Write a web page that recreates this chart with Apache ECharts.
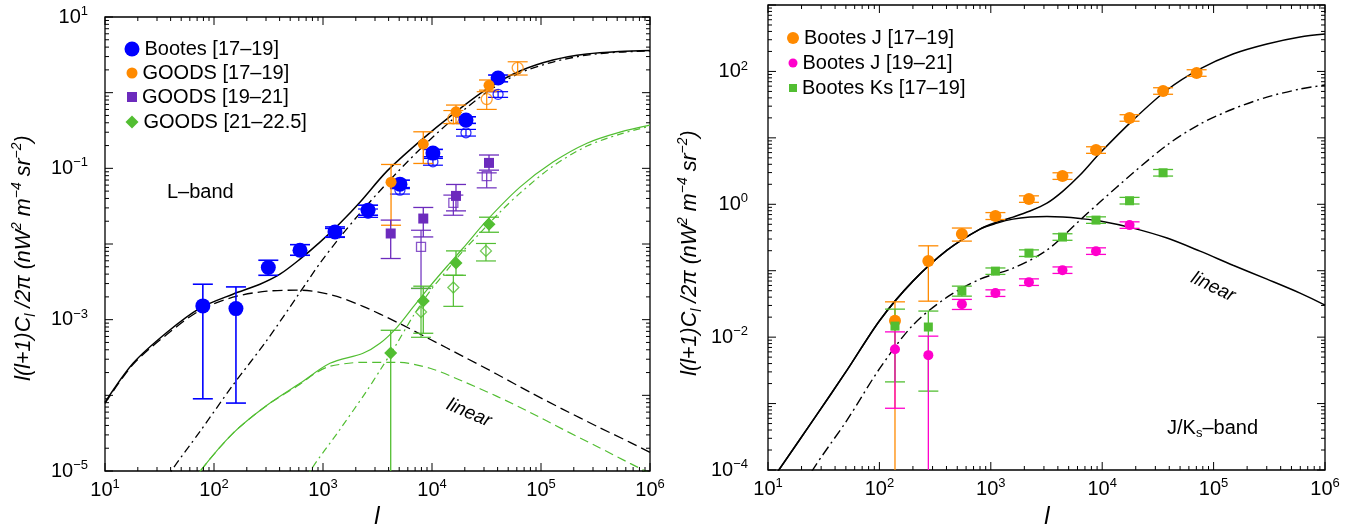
<!DOCTYPE html>
<html><head><meta charset="utf-8">
<script src="https://cdn.jsdelivr.net/npm/echarts@6/dist/echarts.min.js"></script>
<style>html,body{margin:0;padding:0;background:#fff}#c{width:1354px;height:529px}</style>
</head><body><div id="c"></div>
<script>
const FONT = 'Liberation Sans, Arial, sans-serif';

// ---------- axis ranges ----------
const xRange = [10, 1e6];
const yRangeL = [1e-5, 10];
const yRangeR = [1e-4, 1e3];

// ---------- LEFT PANEL (L-band) data: [l, value, lower, upper] ----------
const bootesL = [
  [79, 1.52e-3, 9.0e-5, 2.94e-3],
  [159, 1.40e-3, 7.9e-5, 2.71e-3],
  [315, 4.89e-3, 3.86e-3, 6.1e-3],
  [615, 8.28e-3, 7.1e-3, 9.8e-3],
  [1288, 0.01445, 0.0124, 0.0168],
  [2590, 0.028, 0.024, 0.0326],
  [5080, 0.0618, 0.0542, 0.0698],
  [10200, 0.159, 0.142, 0.178],
  [20500, 0.434, 0.393, 0.48],
  [40400, 1.56, 1.39, 1.71]
];
const bootesLOpen = [
  [1288, 0.0139, 0.0122, 0.016],
  [2590, 0.0254, 0.0225, 0.029],
  [5080, 0.0515, 0.0457, 0.0559],
  [10200, 0.122, 0.110, 0.135],
  [20500, 0.295, 0.267, 0.327],
  [40400, 0.950, 0.867, 1.03]
];
const goods1719 = [
  [4210, 0.0656, 0.0177, 0.1125],
  [8318, 0.209, 0.116, 0.304],
  [16600, 0.558, 0.392, 0.686],
  [33340, 1.25, 1.08, 1.47]
];
const goods1719Open = [
  [15700, 0.457, 0.39, 0.58],
  [31770, 0.822, 0.601, 1.03],
  [61100, 2.13, 1.71, 2.56]
];
const goods1921 = [
  [4180, 0.01377, 6.43e-3, 0.0207],
  [8318, 0.0217, 0.0124, 0.0304],
  [16600, 0.0432, 0.0274, 0.0612],
  [33340, 0.118, 0.0946, 0.150]
];
const goods1921Open = [
  [7930, 9.16e-3, 2.58e-3, 0.0152],
  [15700, 0.035, 0.024, 0.0443],
  [31770, 0.0789, 0.0552, 0.0871]
];
const goods21225 = [
  [4180, 3.63e-4, 1e-6, 7.24e-4],
  [8318, 1.77e-3, 6.61e-4, 2.77e-3],
  [16600, 5.62e-3, 3.86e-3, 8.11e-3],
  [33340, 0.0183, 0.0143, 0.0226]
];
const goods21225Open = [
  [7930, 1.26e-3, 5.85e-4, 2.6e-3],
  [15700, 2.66e-3, 1.50e-3, 3.86e-3],
  [31260, 8.11e-3, 5.97e-3, 0.01016]
];

// model curves, left panel: [l, value]
const lTotal = [[10,8.07e-5],[18.1,2.65e-4],[37.1,6.81e-4],[74.5,1.42e-3],[149,2.17e-3],[264,2.94e-3],[403,3.99e-3],[615,6.3e-3],[938,0.01057],[1432,0.01884],[2183,0.0357],[3864,0.0918],[7762,0.229],[15600,0.521],[32000,1.12],[64120,1.93],[128800,2.70],[264200,3.24],[530900,3.50],[1e6,3.61]];
const lLinear = [[10,7.83e-5],[18.1,2.57e-4],[37.1,6.41e-4],[74.5,1.33e-3],[149,1.98e-3],[306,2.38e-3],[615,2.45e-3],[1236,2.10e-3],[2328,1.50e-3],[4775,9.25e-4],[9594,5.51e-4],[19230,3.28e-4],[39450,1.90e-4],[79250,1.10e-4],[159200,6.53e-5],[326600,3.89e-5],[656000,2.39e-5],[1e6,1.76e-5]];
const lNonlin = [[36,7e-6],[40.4,9.9e-6],[74.5,3.34e-5],[149,1.36e-4],[306,5.35e-4],[615,2.30e-3],[938,5.57e-3],[1432,0.0123],[2183,0.0255],[3864,0.0637],[7762,0.179],[15600,0.448],[32000,1.02],[64120,1.82],[128800,2.54],[264200,3.14],[530900,3.44],[1e6,3.55]];
const gTotal = [[66,7e-6],[74.5,9.9e-6],[149,3.14e-5],[306,7.38e-5],[615,1.44e-4],[1159,2.65e-4],[2328,3.60e-4],[3334,4.88e-4],[4775,7.93e-4],[6699,1.46e-3],[9594,2.77e-3],[13740,5.08e-3],[19230,8.79e-3],[32000,0.0207],[64120,0.0564],[128800,0.121],[264200,0.215],[530900,0.301],[1e6,0.372]];
const gLinear = [[66,7e-6],[74.5,9.9e-6],[149,3.14e-5],[306,7.38e-5],[615,1.40e-4],[845,1.95e-4],[1159,2.42e-4],[2328,2.73e-4],[4775,2.73e-4],[9594,2.28e-4],[19230,1.53e-4],[39450,9.7e-5],[79250,5.96e-5],[159200,3.55e-5],[326600,2.11e-5],[656000,1.26e-5],[1e6,9.3e-6]];
const gNonlin = [[700,7e-6],[760,9.9e-6],[1432,3.55e-5],[2535,1.16e-4],[3334,2.14e-4],[4775,4.88e-4],[6699,1.11e-3],[9594,2.38e-3],[13740,4.5e-3],[19230,8.04e-3],[27540,0.0139],[42070,0.0264],[64120,0.047],[128800,0.107],[264200,0.197],[530900,0.283],[1e6,0.361]];

// ---------- RIGHT PANEL (J/Ks-band) data ----------
const bootesJ1719 = [
  [138, 0.0176, 1e-5, 0.034],
  [275, 0.140, 0.0348, 0.237],
  [550, 0.356, 0.279, 0.439],
  [1100, 0.664, 0.59, 0.75],
  [2200, 1.20, 1.07, 1.34],
  [4400, 2.66, 2.37, 2.98],
  [8800, 6.55, 5.85, 7.34],
  [17600, 19.9, 17.8, 22.3],
  [35200, 50.7, 45.3, 56.8],
  [70400, 94.6, 84.5, 106]
];
const bootesJ1921 = [
  [138, 6.59e-3, 8.5e-4, 0.0120],
  [275, 5.36e-3, 1e-5, 0.01035],
  [550, 0.0314, 0.0261, 0.037],
  [1100, 0.046, 0.041, 0.0515],
  [2200, 0.0673, 0.060, 0.0754],
  [4400, 0.102, 0.091, 0.114],
  [8800, 0.197, 0.176, 0.221],
  [17600, 0.486, 0.434, 0.544]
];
const bootesKs1719 = [
  [138, 0.01466, 2.12e-3, 0.0264],
  [275, 0.0142, 1.54e-3, 0.0247],
  [550, 0.0493, 0.0414, 0.0586],
  [1100, 0.0986, 0.088, 0.110],
  [2200, 0.184, 0.164, 0.206],
  [4400, 0.321, 0.287, 0.36],
  [8800, 0.578, 0.516, 0.647],
  [17600, 1.13, 1.01, 1.27],
  [35200, 2.98, 2.66, 3.34]
];
const rTotal = [[12.3,9.6e-5],[25.4,5.62e-4],[51.2,3.18e-3],[101,0.018],[200,0.0697],[405,0.204],[800,0.424],[1138,0.54],[1581,0.641],[2249,0.791],[3192,1.04],[4446,1.58],[6324,2.75],[9550,5.9],[18880,18.5],[38190,52.5],[75510,109],[149300,183],[301300,259],[597000,330],[1e6,366]];
const rLinear = [[12.3,9.6e-5],[25.4,5.62e-4],[51.2,3.18e-3],[101,0.018],[200,0.0697],[405,0.204],[800,0.424],[1138,0.521],[1581,0.598],[2249,0.641],[3192,0.653],[4446,0.641],[6324,0.609],[9550,0.559],[18880,0.438],[38190,0.310],[75510,0.197],[149300,0.121],[301300,0.0746],[597000,0.046],[1e6,0.0303]];
const rNonlin = [[21,5e-5],[24.8,9.6e-5],[51.2,5.62e-4],[101,3.41e-3],[200,0.0152],[405,0.040],[800,0.0746],[1581,0.109],[3192,0.204],[6324,0.578],[9550,1.08],[18880,2.95],[38190,7.8],[75510,16.1],[149300,27.2],[301300,41.1],[597000,54.3],[1e6,62.4]];

// ---------- colours ----------
const C = {blue:'#0000ff', orange:'#ff8a00', purple:'#6c2bbd', green:'#52be32', magenta:'#ff00cc', black:'#000'};

function expText(v) {
  const e = Math.round(Math.log10(v));
  return '{b|10}{s|' + (e < 0 ? '\u2212' + (-e) : e) + '}';
}
const labelRich = {
  b: {fontSize: 20, fontFamily: FONT, color: '#000', lineHeight: 24},
  s: {fontSize: 13, fontFamily: FONT, color: '#000', lineHeight: 12, verticalAlign: 'top'}
};

function tickSeries(gi, xr, yr) {
  return {
    type: 'custom', xAxisIndex: gi, yAxisIndex: gi, silent: true, clip: false, z: 10,
    data: [[xr[0], yr[0]]],
    renderItem: function (params, api) {
      const ch = [];
      const bl = api.coord([xr[0], yr[0]]), tr = api.coord([xr[1], yr[1]]);
      const L = bl[0], R = tr[0], B = bl[1], T = tr[1];
      const add = (x1, y1, x2, y2) => ch.push({type: 'line', shape: {x1, y1, x2, y2}, style: {stroke: '#000', lineWidth: 1}});
      const d0x = Math.round(Math.log10(xr[0])), d1x = Math.round(Math.log10(xr[1]));
      for (let d = d0x; d <= d1x; d++) for (let m = 1; m <= 9; m++) {
        const v = m * Math.pow(10, d);
        if (v > xr[1] * 1.0001) continue;
        const x = api.coord([v, yr[0]])[0];
        const len = m === 1 ? 8 : 4;
        add(x, B, x, B - len); add(x, T, x, T + len);
      }
      const d0y = Math.round(Math.log10(yr[0])), d1y = Math.round(Math.log10(yr[1]));
      for (let d = d0y; d <= d1y; d++) for (let m = 1; m <= 9; m++) {
        const v = m * Math.pow(10, d);
        if (v > yr[1] * 1.0001) continue;
        const y = api.coord([xr[0], v])[1];
        const len = m === 1 ? 8 : 4;
        add(L, y, L + len, y); add(R, y, R - len, y);
      }
      return {type: 'group', children: ch};
    }
  };
}

function errSeries(gi, data, color, capW, lw) {
  return {
    type: 'custom', xAxisIndex: gi, yAxisIndex: gi, silent: true, clip: true, z: 3,
    data: data, encode: {x: 0, y: 1},
    renderItem: function (params, api) {
      const x = api.value(0), lo = api.value(2), hi = api.value(3);
      const pH = api.coord([x, hi]), pL = api.coord([x, lo]);
      const h = capW / 2, st = {stroke: color, lineWidth: lw};
      return {type: 'group', children: [
        {type: 'line', shape: {x1: pH[0], y1: pH[1], x2: pL[0], y2: pL[1]}, style: st},
        {type: 'line', shape: {x1: pH[0] - h, y1: pH[1], x2: pH[0] + h, y2: pH[1]}, style: st},
        {type: 'line', shape: {x1: pL[0] - h, y1: pL[1], x2: pL[0] + h, y2: pL[1]}, style: st}
      ]};
    }
  };
}

function scat(gi, name, data, symbol, size, color, open) {
  return {
    type: 'scatter', name: name, xAxisIndex: gi, yAxisIndex: gi, data: data, symbol: symbol, symbolSize: size, z: 4,
    encode: {x: 0, y: 1}, silent: true,
    itemStyle: open ? {color: 'rgba(0,0,0,0)', borderColor: color, borderWidth: 1.3} : {color: color, opacity: 1}
  };
}

function curve(gi, data, color, type, w) {
  return {
    type: 'line', xAxisIndex: gi, yAxisIndex: gi, data: data, showSymbol: false, symbol: 'none', smooth: 0.3,
    clip: true, z: 2, silent: true,
    lineStyle: {color: color, width: w, type: type}
  };
}

function legendItem(name, cx, cy, size, fs) {
  return {
    data: [name], orient: 'vertical', left: cx - size / 2, top: cy - 11,
    itemWidth: size, itemHeight: size, itemGap: 0, selectedMode: false, padding: 0,
    textStyle: {fontSize: fs, fontFamily: FONT, color: '#000', lineHeight: 22}
  };
}

function xAxisCfg(gi) {
  return {
    gridIndex: gi, type: 'log', logBase: 10, min: xRange[0], max: xRange[1],
    axisLine: {show: false}, axisTick: {show: false}, splitLine: {show: false}, minorTick: {show: false},
    axisLabel: {margin: 7, formatter: expText, rich: labelRich, showMinLabel: true, showMaxLabel: true, hideOverlap: false}
  };
}
function yAxisCfg(gi, yr, parity, margin) {
  return {
    gridIndex: gi, type: 'log', logBase: 10, min: yr[0], max: yr[1],
    axisLine: {show: false}, axisTick: {show: false}, splitLine: {show: false}, minorTick: {show: false},
    axisLabel: {margin: margin, rich: labelRich, showMinLabel: true, showMaxLabel: true, hideOverlap: false,
      formatter: function (v) {
        const e = Math.round(Math.log10(v));
        return (Math.abs(e) % 2 === parity) ? expText(v) : '';
      }}
  };
}

const titleRich = {
  i: {fontSize: 21.5, fontFamily: FONT, fontStyle: 'italic', color: '#000', lineHeight: 28},
  sub: {fontSize: 14, fontFamily: FONT, fontStyle: 'italic', color: '#000', lineHeight: 14, verticalAlign: 'bottom'},
  sup: {fontSize: 14, fontFamily: FONT, fontStyle: 'italic', color: '#000', lineHeight: 14, verticalAlign: 'top'}
};
const yTitle = '{i|l(l+1)C}{sub|l}{i| /2\u03c0 (nW}{sup|2}{i| m}{sup|\u22124}{i| sr}{sup|\u22122}{i|)}';

const option = {
  animation: false,
  textStyle: {fontFamily: FONT},
  grid: [
    {left: 105, top: 17, width: 545, height: 454, show: true, borderColor: '#000', borderWidth: 1.3, backgroundColor: 'rgba(0,0,0,0)', containLabel: false, outerBoundsMode: 'none'},
    {left: 768, top: 5, width: 557, height: 465, show: true, borderColor: '#000', borderWidth: 1.3, backgroundColor: 'rgba(0,0,0,0)', containLabel: false, outerBoundsMode: 'none'}
  ],
  xAxis: [xAxisCfg(0), xAxisCfg(1)],
  yAxis: [yAxisCfg(0, yRangeL, 1, 17), yAxisCfg(1, yRangeR, 0, 20)],
  legend: [
    legendItem('Bootes [17\u201319]', 132, 49, 15, 20),
    legendItem('GOODS [17\u201319]', 132, 73, 11, 20),
    legendItem('GOODS [19\u201321]', 132, 97, 10, 20),
    legendItem('GOODS [21\u201322.5]', 132, 122, 13, 20),
    legendItem('Bootes J [17\u201319]', 793, 38, 12, 20),
    legendItem('Bootes J [19\u201321]', 793, 63, 9, 20),
    legendItem('Bootes Ks [17\u201319]', 793, 88, 8, 20)
  ],
  series: [
    // left model curves
    curve(0, lTotal, C.black, 'solid', 1.5),
    curve(0, lLinear, C.black, [10, 5], 1.3),
    curve(0, lNonlin, C.black, [8, 4, 2, 4], 1.3),
    curve(0, gTotal, C.green, 'solid', 1.2),
    curve(0, gLinear, C.green, [9, 5], 1.2),
    curve(0, gNonlin, C.green, [7, 4, 2, 4], 1.2),
    // left error bars
    errSeries(0, bootesL, C.blue, 20, 1.6),
    errSeries(0, bootesLOpen, C.blue, 20, 1.2),
    errSeries(0, goods1719, C.orange, 20, 1.3),
    errSeries(0, goods1719Open, C.orange, 20, 1.2),
    errSeries(0, goods1921, C.purple, 20, 1.3),
    errSeries(0, goods1921Open, C.purple, 20, 1.2),
    errSeries(0, goods21225, C.green, 20, 1.3),
    errSeries(0, goods21225Open, C.green, 20, 1.2),
    // left markers
    scat(0, 'Bootes open', bootesLOpen, 'circle', 10, C.blue, true),
    scat(0, 'GOODS17 open', goods1719Open, 'circle', 11, C.orange, true),
    scat(0, 'GOODS19 open', goods1921Open, 'rect', 9, C.purple, true),
    scat(0, 'GOODS21 open', goods21225Open, 'diamond', 11, C.green, true),
    scat(0, 'Bootes [17\u201319]', bootesL, 'circle', 15, C.blue, false),
    scat(0, 'GOODS [17\u201319]', goods1719, 'circle', 11, C.orange, false),
    scat(0, 'GOODS [19\u201321]', goods1921, 'rect', 10, C.purple, false),
    scat(0, 'GOODS [21\u201322.5]', goods21225, 'diamond', 13, C.green, false),
    // right model curves
    curve(1, rTotal, C.black, 'solid', 1.5),
    curve(1, rLinear, C.black, 'solid', 1.5),
    curve(1, rNonlin, C.black, [10, 4, 2, 4], 1.4),
    // right error bars
    errSeries(1, bootesJ1719, C.orange, 20, 1.3),
    errSeries(1, bootesKs1719, C.green, 20, 1.3),
    errSeries(1, bootesJ1921, C.magenta, 20, 1.3),
    // right markers
    scat(1, 'Bootes J [17\u201319]', bootesJ1719, 'circle', 12, C.orange, false),
    scat(1, 'Bootes J [19\u201321]', bootesJ1921, 'circle', 10, C.magenta, false),
    scat(1, 'Bootes Ks [17\u201319]', bootesKs1719, 'rect', 9, C.green, false),
    // ticks
    tickSeries(0, xRange, yRangeL),
    tickSeries(1, xRange, yRangeR)
  ],
  graphic: [
    {type: 'text', x: 167, y: 192, style: {text: 'L\u2013band', fontSize: 20, fontFamily: FONT, fill: '#000', align: 'left', verticalAlign: 'middle'}},
    {type: 'text', x: 469, y: 413, rotation: -0.4, style: {text: 'linear', fontSize: 19, fontStyle: 'italic', fontFamily: FONT, fill: '#000', align: 'center', verticalAlign: 'middle'}},
    {type: 'text', x: 1213, y: 287, rotation: -0.45, style: {text: 'linear', fontSize: 19, fontStyle: 'italic', fontFamily: FONT, fill: '#000', align: 'center', verticalAlign: 'middle'}},
    {type: 'text', x: 1167, y: 428, style: {text: '{a|J/K}{b|s}{a|\u2013band}', align: 'left', verticalAlign: 'middle',
      rich: {a: {fontSize: 20, fontFamily: FONT, color: '#000', lineHeight: 24}, b: {fontSize: 13, fontFamily: FONT, color: '#000', lineHeight: 12, verticalAlign: 'bottom'}}}},
    {type: 'text', x: 24, y: 258, rotation: Math.PI / 2, style: {text: yTitle, rich: titleRich, align: 'center', verticalAlign: 'middle'}},
    {type: 'text', x: 690, y: 253, rotation: Math.PI / 2, style: {text: yTitle, rich: titleRich, align: 'center', verticalAlign: 'middle'}},
    {type: 'text', x: 377, y: 517, style: {text: 'l', fontSize: 24, fontStyle: 'italic', fontFamily: FONT, fill: '#000', align: 'center', verticalAlign: 'middle'}},
    {type: 'text', x: 1047, y: 517, style: {text: 'l', fontSize: 24, fontStyle: 'italic', fontFamily: FONT, fill: '#000', align: 'center', verticalAlign: 'middle'}}
  ]
};

const chart = echarts.init(document.getElementById('c'), null, {renderer: 'canvas'});
chart.setOption(option);
</script></body></html>
